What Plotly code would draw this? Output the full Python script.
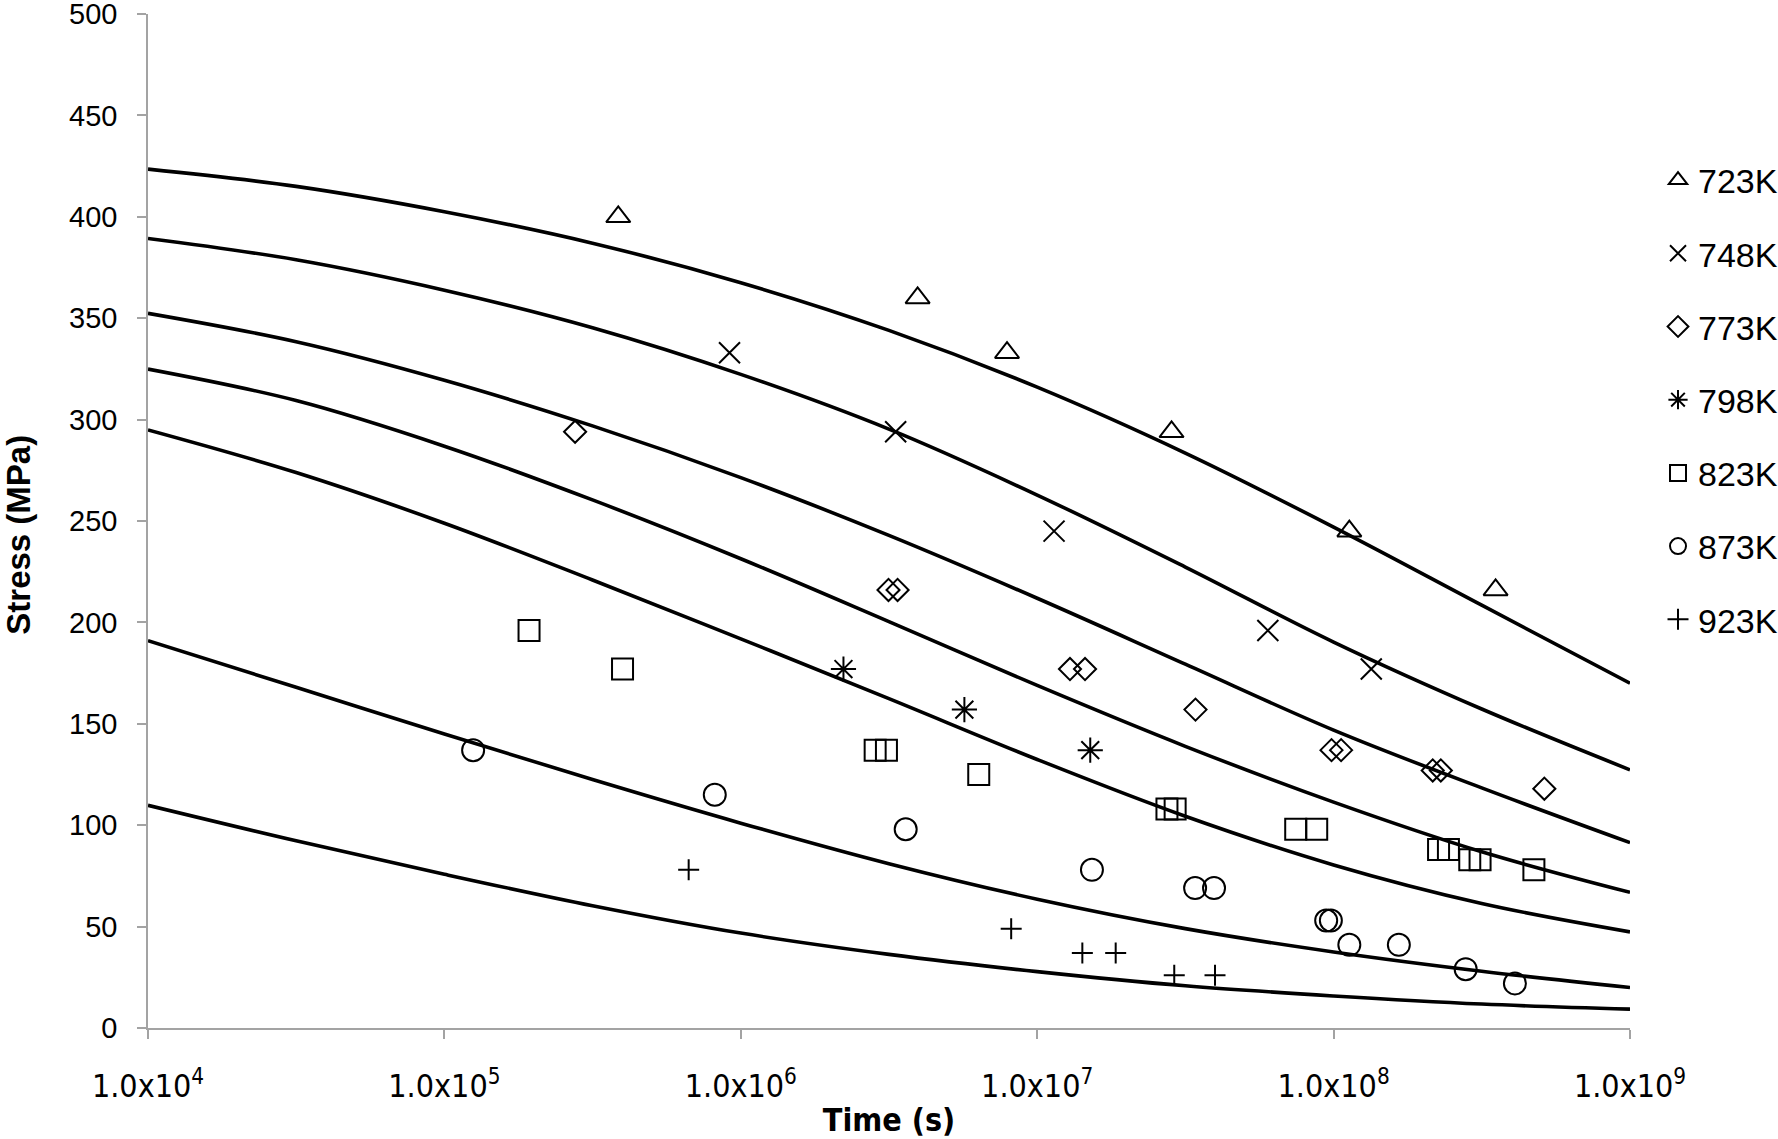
import plotly.graph_objects as go

# fitted master curves, read at half-decade steps of time (s)
CURVE_TIME = [1e4, 3.16e4, 1e5, 3.16e5, 1e6, 3.16e6, 1e7, 3.16e7, 1e8, 3.16e8, 1e9]
FIT_723K = [423.5, 415, 402.5, 387, 367.5, 344, 316, 283.5, 247, 208.5, 170]
FIT_748K = [389.3, 378.8, 363.8, 345.3, 322.3, 295.3, 262.8, 227.3, 190.3, 157.3, 127.3]
FIT_773K = [352.4, 338.4, 319.4, 296.9, 271.4, 242.9, 211.9, 179.4, 146.9, 118.4, 91.4]
FIT_798K = [324.9, 309.4, 286.9, 260.4, 231.4, 200.4, 168.9, 138.9, 111.4, 86.9, 66.9]
FIT_823K = [294.9, 273.9, 248.9, 220.9, 191.9, 162.4, 132.4, 104.4, 80.4, 61.4, 47.4]
FIT_873K = [191, 168, 145, 122.5, 101, 81, 63.5, 49, 37.5, 28, 20]
FIT_923K = [109.8, 92.3, 75.8, 60.3, 46.8, 36.3, 27.8, 20.8, 15.8, 11.8, 9.3]

# measured rupture data: time (s) and stress (MPa)
T_723K = [3.86e5, 3.95e6, 7.91e6, 2.84e7, 1.13e8, 3.52e8]
S_723K = [400, 360, 333, 294, 245, 216]
T_748K = [9.16e5, 3.33e6, 1.14e7, 6.0e7, 1.34e8]
S_748K = [333, 294, 245, 196, 177]
T_773K = [2.76e5, 3.15e6, 3.38e6, 1.29e7, 1.45e7, 3.42e7, 9.84e7, 1.06e8, 2.16e8, 2.30e8, 5.14e8]
S_773K = [294, 216, 216, 177, 177, 157, 137, 137, 127, 127, 118]
T_798K = [2.22e6, 5.68e6, 1.51e7]
S_798K = [177, 157, 137]
T_823K = [1.93e5, 3.99e5, 2.84e6, 3.10e6, 6.35e6, 2.74e7, 2.92e7, 7.45e7, 8.77e7,
          2.26e8, 2.44e8, 2.88e8, 3.12e8, 4.74e8]
S_823K = [196, 177, 137, 137, 125, 108, 108, 98, 98, 88, 88, 83, 83, 78]
T_873K = [1.25e5, 8.17e5, 3.6e6, 1.53e7, 3.41e7, 3.95e7, 9.44e7, 9.79e7, 1.13e8, 1.66e8, 2.79e8, 4.09e8]
S_873K = [137, 115, 98, 78, 69, 69, 53, 53, 41, 41, 29, 22]
T_923K = [6.67e5, 8.17e6, 1.42e7, 1.84e7, 2.9e7, 3.98e7]
S_923K = [78, 49, 37, 37, 26, 26]

X_TICKS = [1e4, 1e5, 1e6, 1e7, 1e8, 1e9]
X_TICK_TEXT = ["1.0x10<sup>4</sup>", "1.0x10<sup>5</sup>", "1.0x10<sup>6</sup>",
               "1.0x10<sup>7</sup>", "1.0x10<sup>8</sup>", "1.0x10<sup>9</sup>"]
Y_TICKS = [0, 50, 100, 150, 200, 250, 300, 350, 400, 450, 500]

ARIAL = "Liberation Sans, Arial, sans-serif"
NARROW = "Liberation Sans Narrow, DejaVu Sans Condensed, Liberation Sans, sans-serif"
AXIS_GREY = "#a3a3a3"

fig = go.Figure()

for fit in [FIT_723K, FIT_748K, FIT_773K, FIT_798K, FIT_823K, FIT_873K, FIT_923K]:
    fig.add_trace(go.Scatter(
        x=CURVE_TIME, y=fit, mode="lines",
        line=dict(color="black", width=3.6, shape="spline", smoothing=1.0),
        showlegend=False, hoverinfo="skip"))

series = [
    ("723K", T_723K, S_723K, "triangle-up-open", 21),
    ("748K", T_748K, S_748K, "x-thin-open", 21),
    ("773K", T_773K, S_773K, "diamond-open", 17),
    ("798K", T_798K, S_798K, "asterisk-open", 21),
    ("823K", T_823K, S_823K, "square-open", 21),
    ("873K", T_873K, S_873K, "circle-open", 22),
    ("923K", T_923K, S_923K, "cross-thin-open", 15),
]
for name, t, s, symbol, size in series:
    fig.add_trace(go.Scatter(
        x=t, y=s, mode="markers", name=name, legendgroup=name,
        marker=dict(symbol=symbol, size=size, color="black",
                    line=dict(color="black", width=2))))

# figure is a little wider than the window so the legend's trailing padding
# falls off-page instead of pushing the legend left
fig.update_layout(
    width=1800, height=1139,
    margin=dict(l=148, r=170, t=14, b=111, autoexpand=False),
    paper_bgcolor="white", plot_bgcolor="white",
    font=dict(family=ARIAL, color="black"),
    legend=dict(x=1.0189, xanchor="left", y=0.8644, yanchor="top",
                font=dict(family=ARIAL, size=34, color="black"),
                tracegroupgap=26, itemwidth=30, bgcolor="rgba(0,0,0,0)"),
)

fig.update_xaxes(
    type="log", range=[4, 9], automargin=False,
    tickvals=X_TICKS, ticktext=X_TICK_TEXT,
    tickfont=dict(family=NARROW, size=32, color="black"),
    ticks="outside", ticklen=9, tickwidth=1.5, tickcolor=AXIS_GREY,
    ticklabelstandoff=20, ticklabeloverflow="allow",
    showline=True, linecolor=AXIS_GREY, linewidth=1.5,
    showgrid=False, zeroline=False,
    title=dict(text="<b>Time (s)</b>", font=dict(family=NARROW, size=32, color="black"),
               standoff=23),
)
fig.update_yaxes(
    range=[0, 500], tickvals=Y_TICKS, automargin=False,
    tickfont=dict(family=ARIAL, size=29, color="black"),
    ticks="outside", ticklen=9, tickwidth=1.5, tickcolor=AXIS_GREY,
    ticklabelstandoff=14, ticklabeloverflow="allow",
    showline=True, linecolor=AXIS_GREY, linewidth=1.5,
    showgrid=False, zeroline=False,
    title=dict(text="<b>Stress (MPa)&nbsp;&nbsp;&nbsp;</b>",
               font=dict(family=ARIAL, size=33, color="black"),
               standoff=48),
)

# drop the browser's default page margin and scrollbars so the chart sits at the corner
fig.write_html(
    "out.html",
    config={"displayModeBar": False},
    post_script="document.body.style.margin='0';document.body.style.overflow='hidden';",
)
